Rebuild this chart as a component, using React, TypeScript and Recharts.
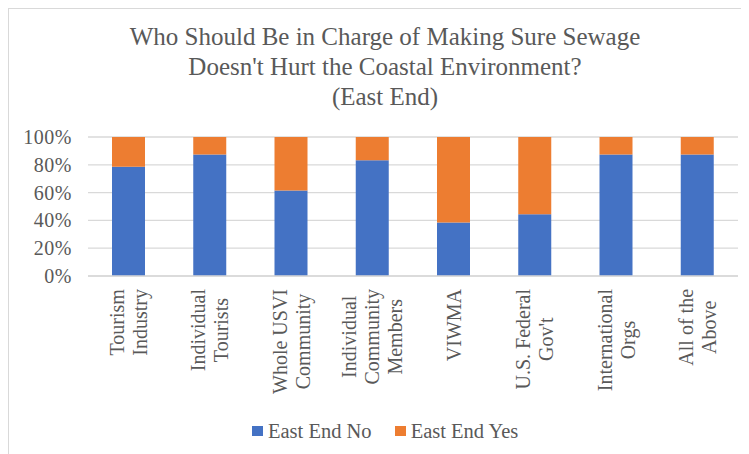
import { BarChart, Bar, XAxis, YAxis, CartesianGrid } from "recharts";

const categories = [
  "Tourism\nIndustry",
  "Individual\nTourists",
  "Whole USVI\nCommunity",
  "Individual\nCommunity\nMembers",
  "VIWMA",
  "U.S. Federal\nGov't",
  "International\nOrgs",
  "All of the\nAbove",
];
const eastEndNo = [78.6, 87.5, 61.5, 83.3, 38.5, 44.4, 87.5, 87.5];
const eastEndYes = [21.4, 12.5, 38.5, 16.7, 61.5, 55.6, 12.5, 12.5];
const yTicks = [0, 20, 40, 60, 80, 100];
const titleLines = [
  "Who Should Be in Charge of Making Sure Sewage",
  "Doesn't Hurt the Coastal Environment?",
  "(East End)",
];

const series = [
  { key: "no", name: "East End No", color: "#4472C4" },
  { key: "yes", name: "East End Yes", color: "#ED7D31" },
];

const data = categories.map((c, i) => ({ name: c, no: eastEndNo[i], yes: eastEndYes[i] }));

const FONT = "'Liberation Serif', 'Times New Roman', serif";
const TEXT = "#595959";
const GRID = "#D9D9D9";

let ctx: CanvasRenderingContext2D | null = null;
function measure(s: string, size: number) {
  if (!ctx) ctx = document.createElement("canvas").getContext("2d");
  if (!ctx) return s.length * size * 0.45;
  ctx.font = `${size}px 'Liberation Serif'`;
  return ctx.measureText(s).width;
}

// rotated, multi-line category label; lines centered, block top just under the axis
// eslint-disable-next-line @typescript-eslint/no-explicit-any
const CategoryTick = ({ x, y, payload }: any) => {
  const fs = 20;
  const lh = 23;
  const lines = String(payload.value).split("\n");
  const maxW = Math.max(...lines.map(l => measure(l, fs)));
  return (
    <g transform={`translate(${x},${y + 13}) rotate(-90)`}>
      {lines.map((l, i) => (
        <text
          key={i}
          x={-maxW / 2}
          y={(i - (lines.length - 1) / 2) * lh + fs * 0.35}
          textAnchor="middle"
          fill={TEXT}
          fontSize={fs}
          fontFamily={FONT}
        >
          {l}
        </text>
      ))}
    </g>
  );
};

// y tick, right-aligned a little left of the plot
// eslint-disable-next-line @typescript-eslint/no-explicit-any
const PercentTick = ({ y, payload }: any) => (
  <text x={63} y={y} dy="0.35em" textAnchor="end" fill={TEXT} fontSize={20} fontFamily={FONT} letterSpacing={0.5}>
    {`${payload.value}%`}
  </text>
);

export default function App() {
  return (
    <div
      style={{
        position: "relative",
        width: 741,
        height: 446,
        borderTop: `1px solid ${GRID}`,
        borderLeft: `1px solid ${GRID}`,
        boxSizing: "border-box",
        fontFamily: FONT,
        overflow: "hidden",
      }}
    >
      <div
        style={{
          position: "absolute",
          left: 0,
          top: 13,
          width: 740,
          paddingLeft: 12,
          boxSizing: "border-box",
          textAlign: "center",
          fontSize: 25,
          lineHeight: "30px",
          color: TEXT,
        }}
      >
        {titleLines.map((t, i) => <div key={i}>{t}</div>)}
      </div>

      <BarChart
        width={740}
        height={445}
        data={data}
        margin={{ top: 128, right: 11, left: 0, bottom: 28 }}
        style={{ position: "absolute", left: 0, top: 0 }}
      >
        <CartesianGrid vertical={false} stroke={GRID} strokeWidth={1.3} />
        <XAxis
          dataKey="name"
          interval={0}
          height={150}
          tickSize={0}
          tickMargin={0}
          axisLine={{ stroke: GRID, strokeWidth: 1.3 }}
          tickLine={false}
          tick={<CategoryTick />}
        />
        <YAxis
          domain={[0, 100]}
          ticks={yTicks}
          width={79}
          axisLine={false}
          tickLine={false}
          tick={<PercentTick />}
        />
        {series.map(s => (
          <Bar key={s.key} dataKey={s.key} name={s.name} stackId="a" fill={s.color} barSize={33} isAnimationActive={false} />
        ))}
      </BarChart>

      <div
        style={{
          position: "absolute",
          left: 243,
          top: 410,
          display: "flex",
          alignItems: "center",
          fontSize: 20.5,
          lineHeight: "24px",
          color: TEXT,
          whiteSpace: "nowrap",
        }}
      >
        {series.map(s => (
          <div key={s.key} style={{ display: "flex", alignItems: "center", marginRight: 23 }}>
            <span style={{ display: "inline-block", width: 11, height: 10, background: s.color, marginRight: 5 }} />
            <span>{s.name}</span>
          </div>
        ))}
      </div>
    </div>
  );
}
